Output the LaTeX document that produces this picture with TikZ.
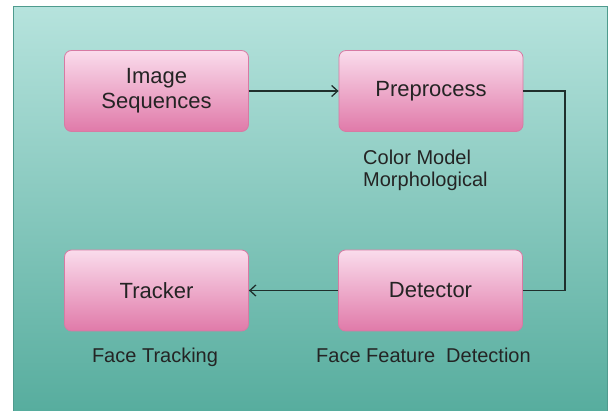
\documentclass[tikz,border=0pt]{standalone}
\usepackage{fontspec}
\setmainfont{Liberation Sans}
\usetikzlibrary{arrows.meta}
\definecolor{bgtop}{HTML}{B6E3DD}
\definecolor{bgbot}{HTML}{57AD9E}
\definecolor{framec}{HTML}{4F9B8E}
\definecolor{pinktop}{HTML}{FADCEC}
\definecolor{pinkbot}{HTML}{E07AA9}
\definecolor{boxline}{HTML}{D77AA3}
\definecolor{txt}{HTML}{242424}
\definecolor{linec}{HTML}{1F2F2C}
\begin{document}
\begin{tikzpicture}[x=1pt,y=-1pt,
  stepbox/.style={draw=boxline, rounded corners=7pt, top color=pinktop, bottom color=pinkbot,
    minimum width=184pt, minimum height=81pt, font=\fontsize{22}{25}\selectfont,
    text=txt, align=center, line width=0.8pt, inner sep=0pt},
  lab/.style={font=\fontsize{20}{22}\selectfont, text=txt, inner sep=0pt},
  conn/.style={draw=linec, line width=1.4pt},
  arr/.style={conn, -{Straight Barb[length=6pt,width=11pt,line width=1.3pt]}}
]
\useasboundingbox (0,0) rectangle (611,411);
\fill[white] (0,0) rectangle (611,411);
\shade[top color=bgtop, bottom color=bgbot] (13,7) rectangle (607,411);
\draw[framec, line width=1pt] (13,411) -- (13,7) -- (607,7) -- (607,411);

\node[stepbox] (is) at (156.5,91) {Image\\Sequences};
\node[stepbox] (pre) at (431,91) {Preprocess};
\node[stepbox] (tr) at (156.5,290.5) {Tracker};
\node[stepbox] (det) at (430.5,290.5) {Detector};

\coordinate (c1) at (565,91);
\coordinate (c2) at (565,290.5);

\draw[arr] (is) -- (pre);
\draw[conn] (pre.east) -- (c1) -- (c2) -- (det.east);
\draw[arr] (det) -- (tr);

\node[lab, anchor=base west] (cm) at (363,165) {Color Model};
\node[lab, anchor=base west] (mo) at (363,187) {Morphological};
\node[lab, anchor=base] (ft) at (155,363) {Face Tracking};
\node[lab, anchor=base west] (ffd) at (316,363) {Face Feature\ \ Detection};
\end{tikzpicture}
\end{document}
